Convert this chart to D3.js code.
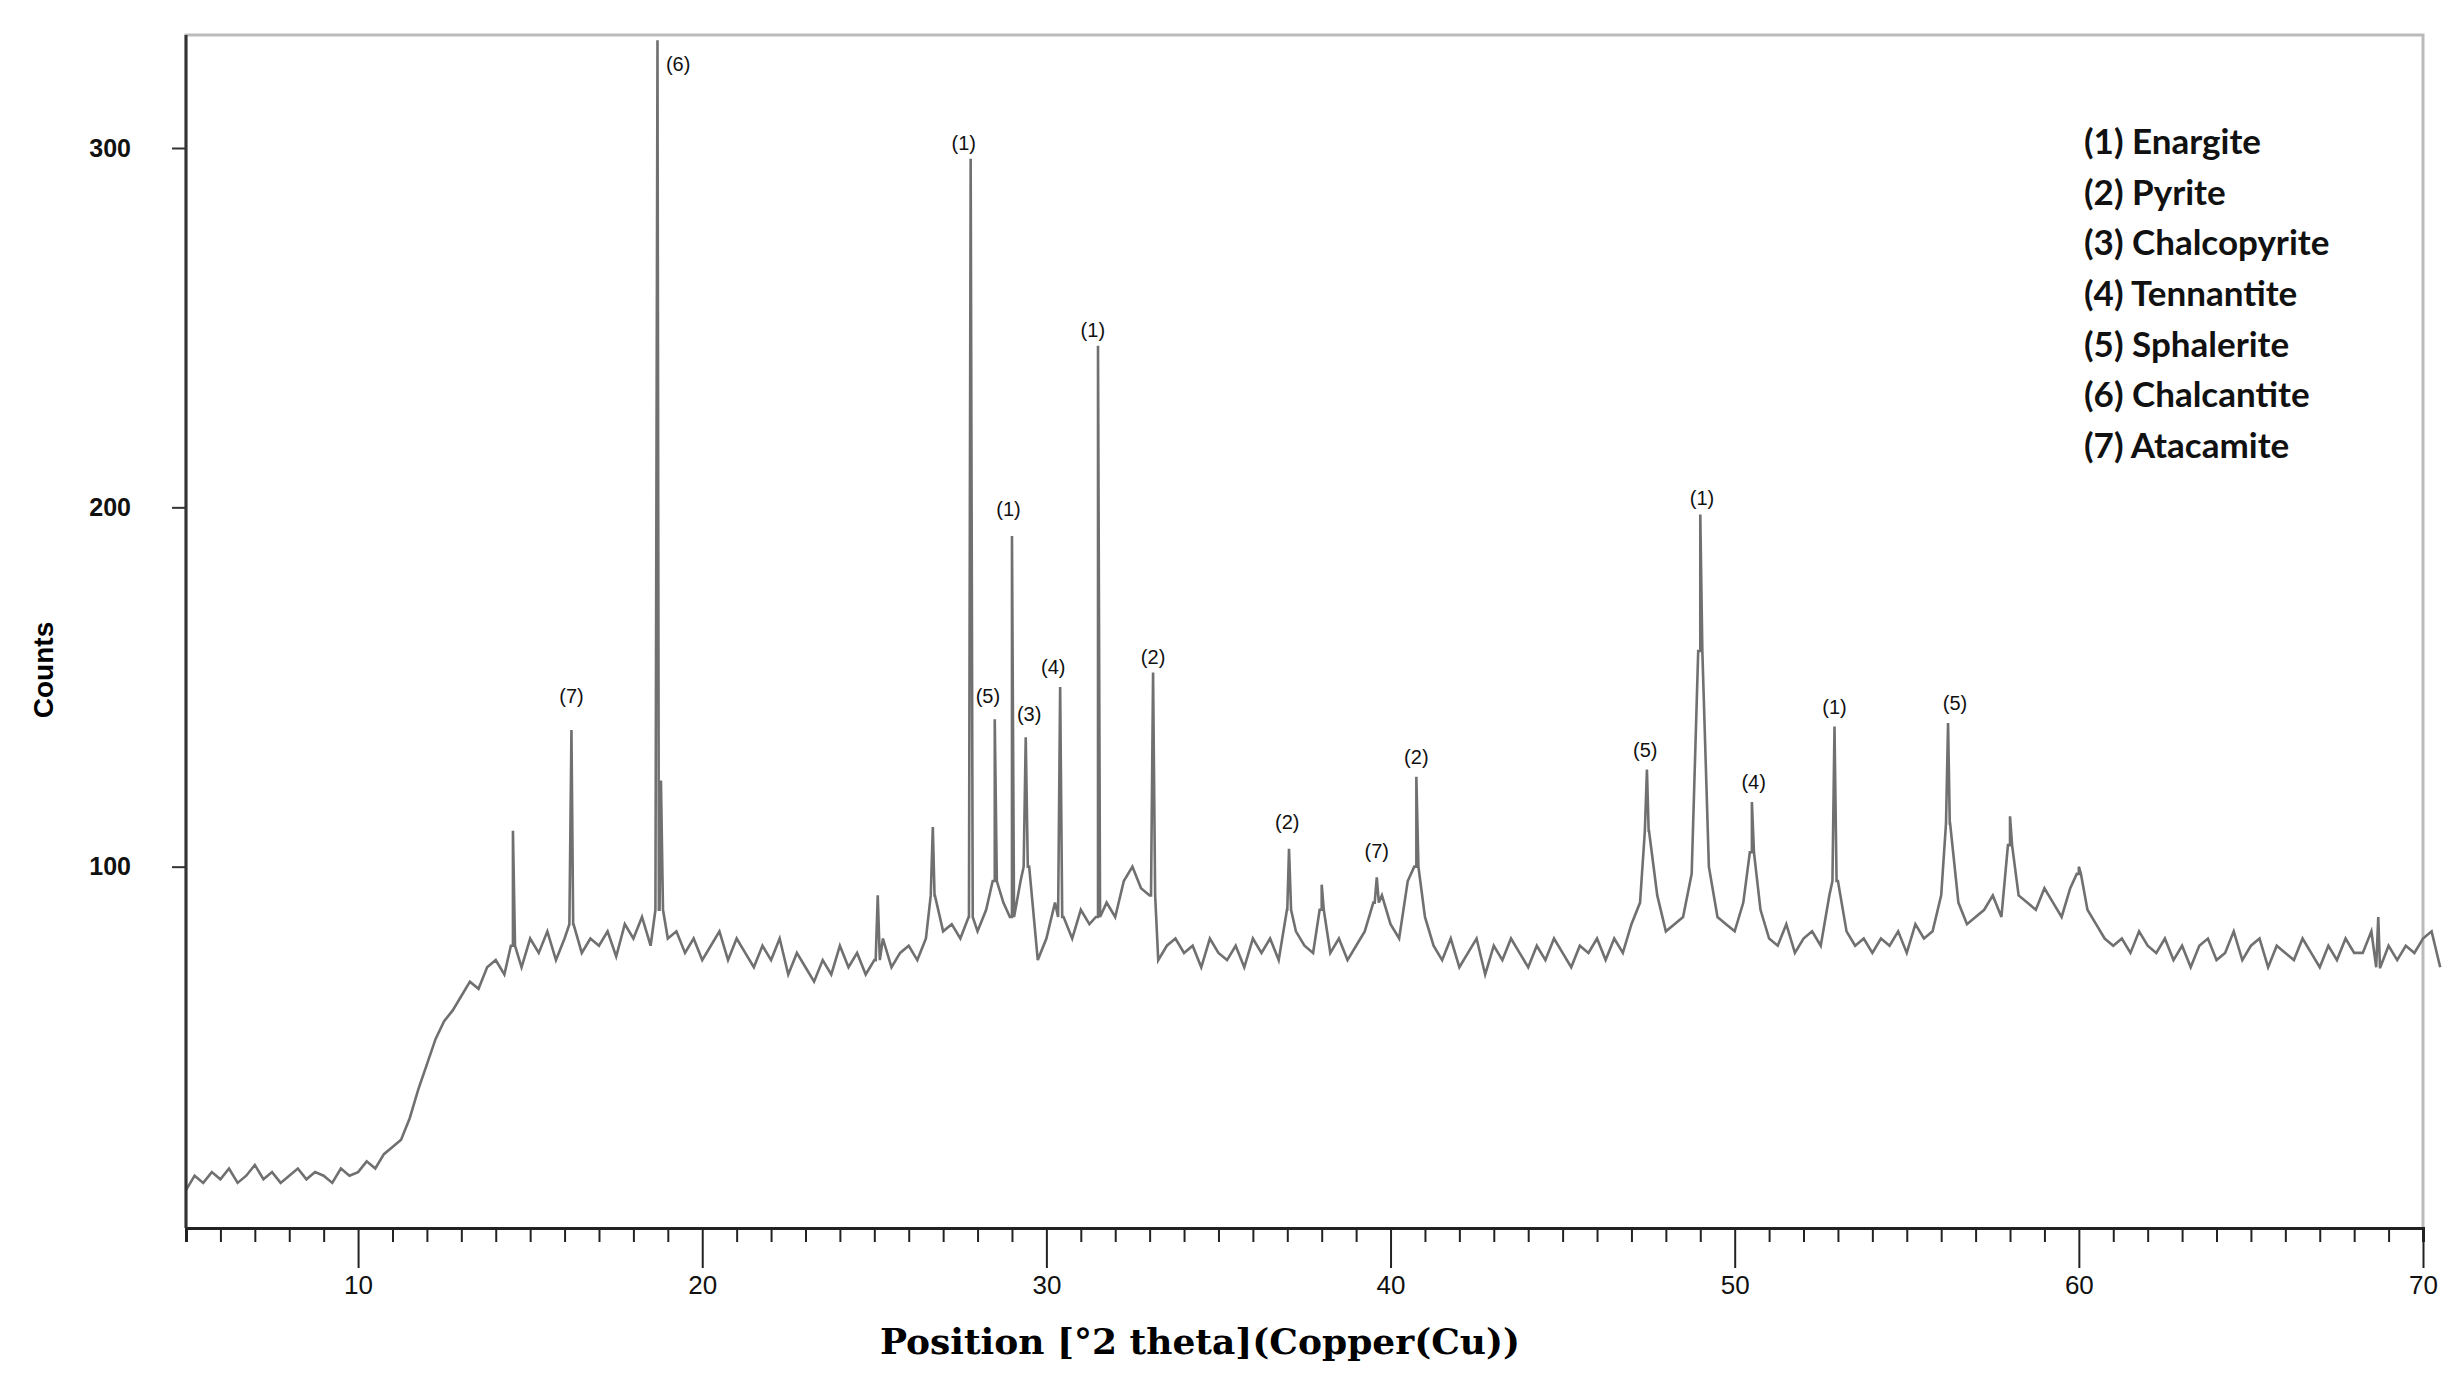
<!DOCTYPE html>
<html><head><meta charset="utf-8">
<script src="https://cdn.jsdelivr.net/npm/d3@7"></script>
<style>body{margin:0;background:#fff}</style></head>
<body><svg id="c" width="2461" height="1381"></svg>
<script>
// baseline counts, 2θ from 5 to 70 in 0.25 steps
const startTheta = 5, stepTheta = 0.25;
const counts = [
10,14,12,15,13,16,12,14,17,13,15,12,14,16,13,15,14,12,16,14,15,
18,16,20,22, 24,30,38,45, 52,57,60,64, 68,66,72,74,
70,78,72,80, 76,82,74,80, 84,76,80,78, 82,75,84,80, 86,78,88,80,
82,76,80,74, 78,82,74,80, 76,72,78,74, 80,70,76,72, 68,74,70,78,
72,76,70,74, 80,72,76,78, 74,80,92,82, 84,80,86,82, 88,96,90,86,
96,100,74,80, 90,86,80,88, 84,86,90,86, 96,100,94,92, 74,78,80,76,
78,72,80,76, 74,78,72,80, 76,80,74,88, 82,78,76,88, 76,80,74,78,
82,90,92,84, 80,96,100,86, 78,74,80,72, 76,80,70,78, 74,80,76,72,
78,74,80,76, 72,78,76,80, 74,80,76,84, 90,110,92,82, 84,86,98,160,
100,86,84,82, 90,104,88,80, 78,84,76,80, 82,78,92,96, 82,78,80,76,
80,78,82,76, 84,80,82,92, 112,90,84,86, 88,92,86,106, 92,90,88,94,
90,86,94,98, 88,84,80,78, 80,76,82,78, 76,80,74,78, 72,78,80,74,
76,82,74,78, 80,72,78,76, 74,80,76,72, 78,74,80,76, 76,82,72,78,
74,78,76,80, 82,72
];
// sharp reflections: [2θ, peak counts]
const peakPos = [14.5,16.2,18.7,18.8,25.1,26.7,27.8,28.5,29.0,29.4,30.4,31.5,33.1,37.05,38.0,39.6,40.75,47.45,49.0,50.5,52.9,56.2,58.0,60.0,68.7];
const peakVal = [110,138,330,124,92,111,297,141,192,136,150,245,154,105,95,97,125,127,198,118,139,140,114,100,86];
// annotation labels
const labelText = ["(7)","(6)","(1)","(5)","(1)","(3)","(4)","(1)","(2)","(2)","(7)","(2)","(5)","(1)","(4)","(1)","(5)"];
const labelPos  = [16.2,19.3,27.6,28.3,28.9,29.5,30.2,31.35,33.1,37.0,39.6,40.75,47.4,49.05,50.55,52.9,56.4];
const labelVal  = [147,323,301,147,199,142,155,249,158,112,104,130,132,202,123,144,145];
const legendItems = ["(1) Enargite","(2) Pyrite","(3) Chalcopyrite","(4) Tennantite","(5) Sphalerite","(6) Chalcantite","(7) Atacamite"];
const xTicks = [10,20,30,40,50,60,70];
const yTicks = [100,200,300];

const svg = d3.select("#c");
const L=186,R=2423,T=35,B=1228;
const x = d3.scaleLinear().domain([5,70]).range([L,R]);
const y = d3.scaleLinear().domain([0,300]).range([1226,148]);

svg.append("path").attr("d",`M${L},${B}V${T}H${R}V${B}`).attr("fill","none").attr("stroke","#bbb").attr("stroke-width",3);

let pts = counts.map((c,i)=>[startTheta+i*stepTheta,c]);
peakPos.forEach((p,i)=>{
  const near = pts.reduce((a,b)=>Math.abs(b[0]-p)<Math.abs(a[0]-p)?b:a);
  const base = near[1];
  pts.push([p-0.06,base],[p,peakVal[i]],[p+0.06,base]);
});
pts.sort((a,b)=>a[0]-b[0]);
svg.append("path").datum(pts)
  .attr("d",d3.line().x(d=>x(d[0])).y(d=>y(d[1])))
  .attr("fill","none").attr("stroke","#707070").attr("stroke-width",2.6);

const xa = svg.append("g").attr("transform",`translate(0,${B})`)
  .call(d3.axisBottom(x).tickValues(d3.range(5,71,1)).tickSize(14).tickFormat(d=>xTicks.includes(d)?d:""));
xa.selectAll(".tick line").attr("y2",d=>xTicks.includes(d)?40:14).attr("stroke","#222").attr("stroke-width",2);
xa.select(".domain").attr("stroke","#222").attr("stroke-width",3);
xa.selectAll("text").attr("font-family","Liberation Sans, Arial").attr("font-size",26).attr("fill","#111").attr("dy","1.9em");

const ya = svg.append("g").attr("transform",`translate(${L},0)`)
  .call(d3.axisLeft(y).tickValues(yTicks).tickSize(14).tickFormat(d3.format("d")));
ya.select(".domain").remove();
ya.selectAll(".tick line").attr("stroke","#333").attr("stroke-width",2);
ya.selectAll("text").attr("font-family","Liberation Sans, Arial").attr("font-weight","bold").attr("font-size",25).attr("fill","#111").attr("x",-55);
svg.append("line").attr("x1",L).attr("x2",L).attr("y1",T).attr("y2",B).attr("stroke","#333").attr("stroke-width",3);

svg.append("g").selectAll("text").data(labelText).join("text")
  .attr("x",(d,i)=>x(labelPos[i])).attr("y",(d,i)=>y(labelVal[i]))
  .attr("text-anchor","middle").attr("dominant-baseline","middle")
  .attr("font-family","Liberation Sans, Arial").attr("font-size",20).attr("fill","#111").text(d=>d);

svg.append("g").selectAll("text").data(legendItems).join("text")
  .attr("x",2084).attr("y",(d,i)=>145+i*50.7).attr("dominant-baseline","middle")
  .attr("font-family","Lato, Open Sans").attr("font-weight","bold").attr("font-size",35).attr("fill","#111").text(d=>d);

svg.append("text").attr("transform","translate(46,670) rotate(-90)").attr("text-anchor","middle").attr("dominant-baseline","middle")
  .attr("font-family","Liberation Sans, Arial").attr("font-weight","bold").attr("font-size",28).text("Counts");
svg.append("text").attr("x",1200).attr("y",1345).attr("text-anchor","middle").attr("dominant-baseline","middle")
  .attr("font-family","DejaVu Serif").attr("font-weight","bold").attr("font-size",36).text("Position [°2 theta](Copper(Cu))");
</script></body></html>
